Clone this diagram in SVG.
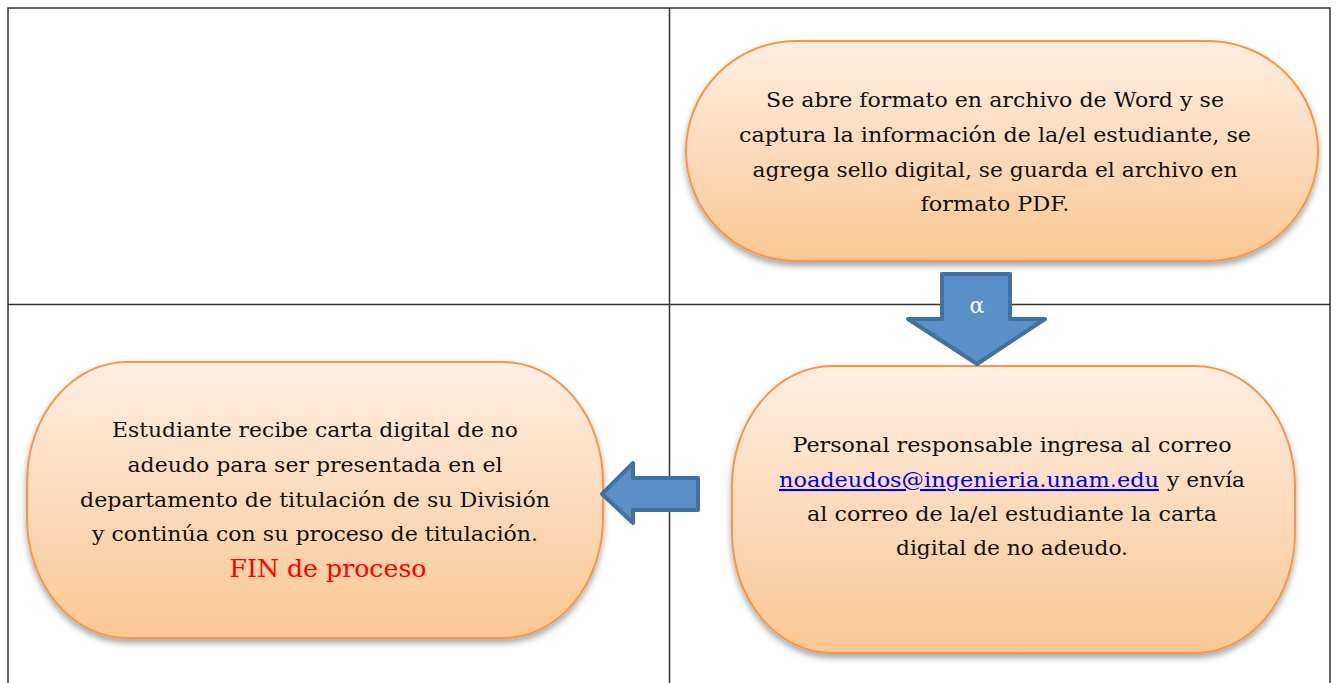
<svg xmlns="http://www.w3.org/2000/svg" width="1336" height="683" viewBox="0 0 1336 683">
<defs>
<linearGradient id="og" x1="0" y1="0" x2="0" y2="1">
<stop offset="0" stop-color="#FEEEE2"/>
<stop offset="1" stop-color="#FBC793"/>
</linearGradient>
<filter id="sh" x="-10%" y="-10%" width="120%" height="125%">
<feDropShadow dx="0" dy="4" stdDeviation="3" flood-color="#000" flood-opacity="0.35"/>
</filter>
<style>
.grid{stroke:#333;stroke-width:1.5;fill:none}
.term{fill:url(#og);stroke:#F79646;stroke-width:2;filter:url(#sh)}
.t{font-family:"DejaVu Serif","Liberation Serif",serif;font-size:21px;fill:#111;text-anchor:middle}
.s{font-family:"DejaVu Serif","Liberation Serif",serif;font-size:21px;fill:#111;text-anchor:start}
.fin{font-family:"DejaVu Serif","Liberation Serif",serif;font-size:25px;fill:#FF0000;text-anchor:middle}
.link{fill:#0000EE;text-decoration:underline}
.arrow{fill:#5B8FC8;stroke:#41719C;stroke-width:4;stroke-linejoin:round}
.alpha{font-family:"DejaVu Serif","Liberation Serif",serif;font-size:22px;fill:#fff;text-anchor:middle}
</style>
</defs>
<rect width="1336" height="683" fill="#fff"/>
<g id="table">
<path class="grid" d="M8,690 V8 H1330 V690"/>
<line class="grid" x1="669.500" y1="8" x2="669.500" y2="690"/>
<line class="grid" x1="8" y1="304.500" x2="1330" y2="304.500"/>
</g>
<g id="node-word">
<rect class="term" x="686" y="41" width="632" height="220" rx="110" ry="110"/>
<text class="t" x="995" y="107" textLength="458" lengthAdjust="spacingAndGlyphs">Se abre formato en archivo de Word y se</text>
<text class="t" x="995" y="142" textLength="512" lengthAdjust="spacingAndGlyphs">captura la información de la/el estudiante, se</text>
<text class="t" x="995" y="177" textLength="485" lengthAdjust="spacingAndGlyphs">agrega sello digital, se guarda el archivo en</text>
<text class="t" x="995" y="211" textLength="149" lengthAdjust="spacingAndGlyphs">formato PDF.</text>
</g>
<g id="node-correo">
<rect class="term" x="732" y="366" width="563" height="287" rx="100" ry="120"/>
<text class="t" x="1012" y="452" textLength="439" lengthAdjust="spacingAndGlyphs">Personal responsable ingresa al correo</text>
<text class="s" y="487"><tspan class="link" x="779" textLength="380" lengthAdjust="spacingAndGlyphs">noadeudos@ingenieria.unam.edu</tspan><tspan x="1167" textLength="78" lengthAdjust="spacingAndGlyphs">y envía</tspan></text>
<text class="t" x="1012" y="521" textLength="410" lengthAdjust="spacingAndGlyphs">al correo de la/el estudiante la carta</text>
<text class="t" x="1012" y="555" textLength="232" lengthAdjust="spacingAndGlyphs">digital de no adeudo.</text>
</g>
<g id="node-fin">
<rect class="term" x="27" y="362" width="576" height="276" rx="100" ry="120"/>
<text class="t" x="315" y="437" textLength="406" lengthAdjust="spacingAndGlyphs">Estudiante recibe carta digital de no</text>
<text class="t" x="315" y="472" textLength="375" lengthAdjust="spacingAndGlyphs">adeudo para ser presentada en el</text>
<text class="t" x="315" y="507" textLength="470" lengthAdjust="spacingAndGlyphs">departamento de titulación de su División</text>
<text class="t" x="315" y="541" textLength="446" lengthAdjust="spacingAndGlyphs">y continúa con su proceso de titulación.</text>
<text class="fin" x="328" y="577" textLength="197" lengthAdjust="spacingAndGlyphs">FIN de proceso</text>
</g>
<g id="connectors">
<g id="arrow-down">
<path class="arrow" d="M942,274 H1010 V319 H1045 L977,364 L908,319 H942 Z"/>
<text class="alpha" x="977" y="313">α</text>
</g>
<g id="arrow-left">
<path class="arrow" d="M698,478 V510 H633 V523 L602,494 L633,463 V478 Z"/>
</g>
</g>
</svg>
